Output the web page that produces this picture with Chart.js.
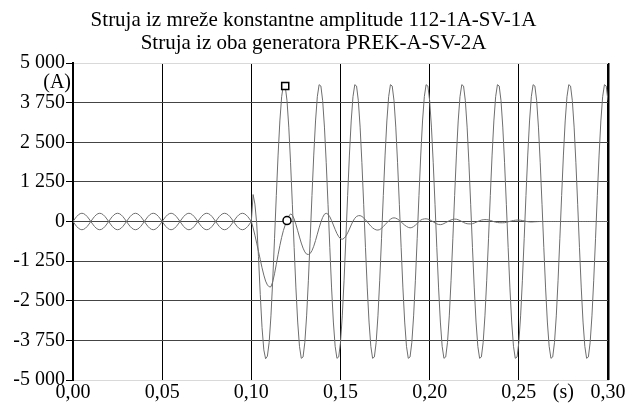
<!DOCTYPE html>
<html>
<head>
<meta charset="utf-8">
<script src="https://cdn.jsdelivr.net/npm/chart.js@4.4.1/dist/chart.umd.min.js"></script>
<style>
  html, body { margin: 0; padding: 0; background: #fff; }
</style>
</head>
<body>
<canvas id="myChart" width="627" height="403"></canvas>
<script>
const titleLines = [
    'Struja iz mreže konstantne amplitude 112-1A-SV-1A',
    'Struja iz oba generatora PREK-A-SV-2A'
];
const yUnit = '(A)';
const xUnit = '(s)';

// samples every 1 ms, from 0,000 s to 0,300 s
const tStep = 0.001;

// struja iz mreže (constant amplitude after the fault)
const netCurrent = [
    0, 80, 153, 210, 247, 260, 247, 210, 153, 80, 0, -80, -153, -210, -247, -260, -247, -210, -153, -80,
    0, 80, 153, 210, 247, 260, 247, 210, 153, 80, 0, -80, -153, -210, -247, -260, -247, -210, -153, -80,
    0, 80, 153, 210, 247, 260, 247, 210, 153, 80, 0, -80, -153, -210, -247, -260, -247, -210, -153, -80,
    0, 80, 153, 210, 247, 260, 247, 210, 153, 80, 0, -80, -153, -210, -247, -260, -247, -210, -153, -80,
    0, 80, 153, 210, 247, 260, 247, 210, 153, 80, 0, -80, -153, -210, -247, -260, -247, -210, -153, -80,
    0, 850, 550, -50, -1100, -2300, -3350, -4050, -4330, -4250, -3812,
    -2978, -1852, -545, 815, 2096, 3171, 3936, 4316, 4273, 3812, 2978, 1852, 545, -815, -2096, -3171, -3936, -4316, -4273, -3812,
    -2978, -1852, -545, 815, 2096, 3171, 3936, 4316, 4273, 3812, 2978, 1852, 545, -815, -2096, -3171, -3936, -4316, -4273, -3812,
    -2978, -1852, -545, 815, 2096, 3171, 3936, 4316, 4273, 3812, 2978, 1852, 545, -815, -2096, -3171, -3936, -4316, -4273, -3812,
    -2978, -1852, -545, 815, 2096, 3171, 3936, 4316, 4273, 3812, 2978, 1852, 545, -815, -2096, -3171, -3936, -4316, -4273, -3812,
    -2978, -1852, -545, 815, 2096, 3171, 3936, 4316, 4273, 3812, 2978, 1852, 545, -815, -2096, -3171, -3936, -4316, -4273, -3812,
    -2978, -1852, -545, 815, 2096, 3171, 3936, 4316, 4273, 3812, 2978, 1852, 545, -815, -2096, -3171, -3936, -4316, -4273, -3812,
    -2978, -1852, -545, 815, 2096, 3171, 3936, 4316, 4273, 3812, 2978, 1852, 545, -815, -2096, -3171, -3936, -4316, -4273, -3812,
    -2978, -1852, -545, 815, 2096, 3171, 3936, 4316, 4273, 3812, 2978, 1852, 545, -815, -2096, -3171, -3936, -4316, -4273, -3812,
    -2978, -1852, -545, 815, 2096, 3171, 3936, 4316, 4273, 3812, 2978, 1852, 545, -815, -2096, -3171, -3936, -4316, -4273, -3812,
    -2978, -1852, -545, 815, 2096, 3171, 3936, 4316, 4273, 3812
];

// struja iz oba generatora (decaying after the fault)
const genCurrent = [
    0, -80, -153, -210, -247, -260, -247, -210, -153, -80, 0, 80, 153, 210, 247, 260, 247, 210, 153, 80,
    0, -80, -153, -210, -247, -260, -247, -210, -153, -80, 0, 80, 153, 210, 247, 260, 247, 210, 153, 80,
    0, -80, -153, -210, -247, -260, -247, -210, -153, -80, 0, 80, 153, 210, 247, 260, 247, 210, 153, 80,
    0, -80, -153, -210, -247, -260, -247, -210, -153, -80, 0, 80, 153, 210, 247, 260, 247, 210, 153, 80,
    0, -80, -153, -210, -247, -260, -247, -210, -153, -80, 0, 80, 153, 210, 247, 260, 247, 210, 153, 80,
    0, -200, -430, -680, -940, -1200, -1460, -1690, -1880, -2000,
    -2060, -2060, -1900, -1650, -1350, -1050, -760, -500, -280, -110,
    30, 170, 240, 200, 80, -90, -290, -490, -680, -840,
    -960, -1030, -1040, -1010, -920, -780, -600, -400, -200, -20,
    130, 230, 260, 230, 150, 30, -110, -250, -380, -480,
    -545, -560, -530, -460, -360, -240, -110, 10, 100, 160,
    183, 185, 160, 115, 55, -10, -80, -145, -200, -240,
    -265, -270, -255, -215, -160, -100, -40, 20, 70, 105,
    115, 105, 75, 35, -15, -65, -115, -155, -185, -200,
    -190, -160, -115, -60, -5, 45, 70, 82, 85, 75,
    55, 25, -10, -45, -75, -95, -100, -90, -65, -35,
    -5, 25, 50, 68, 75, 72, 55, 30, 0, -30,
    -55, -70, -75, -75, -68, -50, -25, 0, 25, 45,
    55, 60, 58, 50, 35, 15, -5, -20, -32, -38,
    -40, -40, -38, -25, -10, 5, 20, 32, 40, 45,
    45, 40, 30, 18, 5, -5, -12, -15, -12, -8,
    -5, -2, 0, 0, 0, 0, 0, 0, 0, 0,
    0, 0, 0, 0, 0, 0, 0, 0, 0, 0,
    0, 0, 0, 0, 0, 0, 0, 0, 0, 0,
    0, 0, 0, 0, 0, 0, 0, 0, 0, 0,
    0
];

// cursor markers on the two curves (sample index)
const netMarkIdx = 119;
const genMarkIdx = 120;

const yMin = -5000, yMax = 5000, yStep = 1250;
const xMin = 0, xMax = 0.3, xStepTick = 0.05;

function toPoints(values) {
    return values.map((v, i) => ({ x: i * tStep, y: v }));
}

function fmtY(v) {
    const s = String(Math.abs(v)).replace(/\B(?=(\d{3})+(?!\d))/g, ' ');
    return (v < 0 ? '-' : '') + s;
}

const serif = 'Liberation Serif';
Chart.defaults.font.family = serif;
Chart.defaults.color = '#000';

const textPlugin = {
    id: 'textPlugin',
    afterDraw(chart) {
        const ctx = chart.ctx;
        const area = chart.chartArea;
        const xs = chart.scales.x, ys = chart.scales.y;
        ctx.save();
        ctx.fillStyle = '#000';
        ctx.font = '21px "' + serif + '"';
        ctx.textAlign = 'center';
        ctx.textBaseline = 'alphabetic';
        const cx = chart.width / 2;
        titleLines.forEach((line, i) => ctx.fillText(line, cx, 26 + i * 23));
        ctx.font = '20px "' + serif + '"';
        ctx.textAlign = 'right';
        ctx.textBaseline = 'middle';
        ctx.fillText(yUnit, area.left - 2, ys.getPixelForValue(4375));
        ctx.textAlign = 'center';
        ctx.textBaseline = 'top';
        ctx.fillText(xUnit, xs.getPixelForValue(0.275), area.bottom + 3);
        ctx.restore();
    }
};

new Chart(document.getElementById('myChart').getContext('2d'), {
    type: 'line',
    data: {
        datasets: [
            {
                label: titleLines[0],
                data: toPoints(netCurrent),
                borderColor: '#6e6e6e',
                borderWidth: 1,
                tension: 0,
                pointStyle: 'rect',
                pointRadius: (c) => c.dataIndex === netMarkIdx ? 5 : 0,
                pointBackgroundColor: '#fff',
                pointBorderColor: '#000',
                pointBorderWidth: 1.5
            },
            {
                label: titleLines[1],
                data: toPoints(genCurrent),
                borderColor: '#6e6e6e',
                borderWidth: 1,
                tension: 0,
                pointStyle: 'circle',
                pointRadius: (c) => c.dataIndex === genMarkIdx ? 4 : 0,
                pointBackgroundColor: '#fff',
                pointBorderColor: '#000',
                pointBorderWidth: 1.5
            }
        ]
    },
    options: {
        responsive: false,
        animation: false,
        layout: { padding: { top: 63, right: 19, left: 0, bottom: 0 } },
        plugins: {
            legend: { display: false },
            title: { display: false },
            tooltip: { enabled: false }
        },
        scales: {
            x: {
                type: 'linear',
                min: xMin,
                max: xMax,
                afterFit: (s) => { s.height = 23; },
                ticks: {
                    stepSize: xStepTick,
                    maxRotation: 0,
                    padding: 1,
                    font: { size: 20 },
                    callback: (v) => v.toFixed(2).replace('.', ',')
                },
                grid: {
                    drawTicks: false,
                    color: '#000',
                    lineWidth: (c) => Math.abs(c.tick.value - xMax) < 1e-6 ? 2.5 : 1
                },
                border: { color: '#d9d9d9', width: 1 }
            },
            y: {
                min: yMin,
                max: yMax,
                afterFit: (s) => { s.width = 73; },
                ticks: {
                    stepSize: yStep,
                    padding: 1,
                    font: { size: 20 },
                    callback: (v) => fmtY(v)
                },
                grid: {
                    tickLength: 7,
                    tickColor: '#000',
                    color: (c) => Math.abs(c.tick.value) === yMax ? '#d9d9d9' : '#444',
                    lineWidth: 1
                },
                border: { color: '#000', width: 2 }
            }
        }
    },
    plugins: [textPlugin]
});
</script>
</body>
</html>
